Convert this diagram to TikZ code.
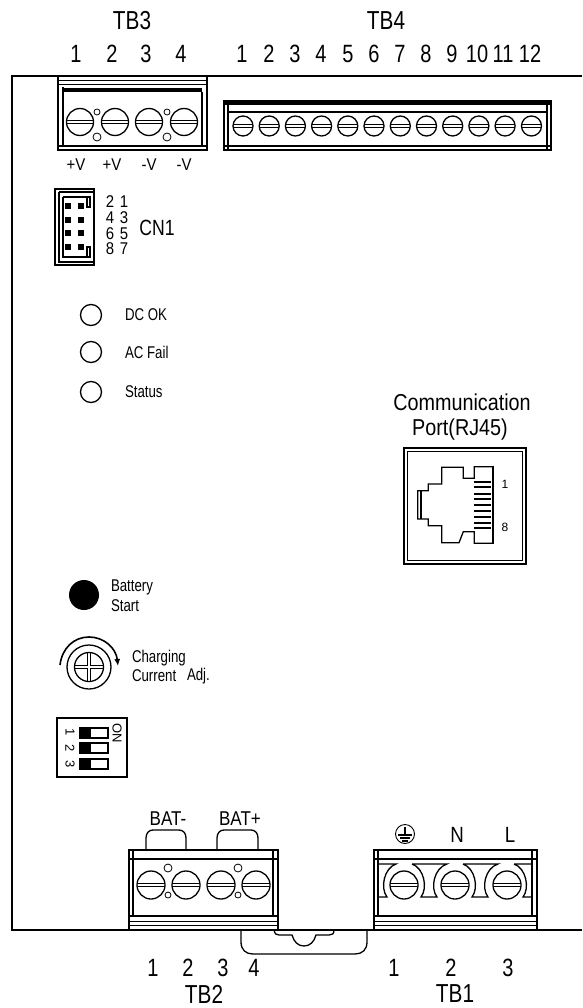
\documentclass[tikz,border=0pt]{standalone}
\usepackage{fontspec}
\setmainfont{Liberation Sans}
\usetikzlibrary{arrows.meta}

\begin{document}
\begin{tikzpicture}
[x=1pt,y=-1pt,line width=1.3pt,
 every node/.style={inner sep=0mm,outer sep=0mm,transform shape},
 title/.style={font=\fontsize{26}{26}\selectfont,xscale=.8},
 num/.style={font=\fontsize{25}{25}\selectfont,xscale=.8},
 mid/.style={font=\fontsize{22}{22}\selectfont,xscale=.8},
 tag/.style={font=\fontsize{20}{20}\selectfont,xscale=.85},
 lbl/.style={font=\fontsize{17}{17}\selectfont,xscale=.78,anchor=west},
 sig/.style={font=\fontsize{17}{17}\selectfont,xscale=.88},
 tiny/.style={font=\fontsize{12}{12}\selectfont},
 dip/.style={font=\fontsize{13}{13}\selectfont,rotate=-90},
 head/.style={font=\fontsize{23}{23}\selectfont,xscale=.86},
 body/.style={draw=black,fill=white},
 screw/.style={circle,draw=black,fill=white,inner sep=0mm,minimum size=#1,
   path picture={
     \draw[line width=1.1pt] ([yshift=1.7pt]path picture bounding box.west) -- ([yshift=1.7pt]path picture bounding box.east);
     \draw[line width=1.1pt] ([yshift=-1.7pt]path picture bounding box.west) -- ([yshift=-1.7pt]path picture bounding box.east);}},
 hole/.style={circle,draw=black,line width=.8pt,inner sep=0mm,minimum size=#1},
 led/.style={circle,draw=black,inner sep=0mm,minimum size=21pt},
 pin/.style={fill=black,draw=none,minimum size=6pt},
 slot/.style={rectangle,draw=black,fill=white,minimum width=28pt,minimum height=10pt,
   path picture={\fill[black] (path picture bounding box.north west) rectangle ([xshift=-17pt]path picture bounding box.south east);}}]
\useasboundingbox (0,0) rectangle (582,1008);

% panel outline
\draw (582,76) -- (12,76) -- (12,930) -- (582,930);

% TB3
\node[title] (tb3) at (132,21) {TB3};
\node[num] (tb3a) at (76,54) {1};
\node[num] (tb3b) at (112,54) {2};
\node[num] (tb3c) at (146,54) {3};
\node[num] (tb3d) at (181,54) {4};
\draw[body] (58,76) rectangle (207,150);
\draw[line width=.9pt] (58,80) -- (207,80);
\draw[line width=.9pt] (58,84) -- (207,84);
\draw (63,87) -- (63,146);
\draw (202,92) -- (202,146);
\draw (58,146) -- (207,146);
\fill (63,88) rectangle (202,92);
\node[screw=27pt] (s3a) at (80,122) {};
\node[screw=27pt] (s3b) at (115,122) {};
\node[screw=27pt] (s3c) at (149,122) {};
\node[screw=27pt] (s3d) at (184,122) {};
\node[hole=6pt] (h3a) at (97,112) {};
\node[hole=8pt] (h3b) at (97,137) {};
\node[hole=6pt] (h3c) at (167,112) {};
\node[hole=8pt] (h3d) at (167,137) {};
\node[sig] (va) at (76,165) {+V};
\node[sig] (vb) at (112,165) {+V};
\node[sig] (vc) at (149,165) {-V};
\node[sig] (vd) at (184,165) {-V};

% TB4
\node[title] (tb4) at (386,21) {TB4};
\node[num] (tb4a) at (242,54) {1};
\node[num] (tb4b) at (269,54) {2};
\node[num] (tb4c) at (295,54) {3};
\node[num] (tb4d) at (321,54) {4};
\node[num] (tb4e) at (348,54) {5};
\node[num] (tb4f) at (374,54) {6};
\node[num] (tb4g) at (400,54) {7};
\node[num] (tb4h) at (426,54) {8};
\node[num] (tb4i) at (452,54) {9};
\node[num] (tb4j) at (477,54) {10};
\node[num] (tb4k) at (503,54) {11};
\node[num] (tb4l) at (530,54) {12};
\draw[body] (224,101) rectangle (551,150);
\fill (224,101) rectangle (551,105.5);
\draw (228,101) -- (228,150);
\draw (547,101) -- (547,150);
\draw (228,112) -- (547,112);
\draw (224,146) -- (551,146);
\node[screw=20pt] (s4a) at (243,126) {};
\node[screw=20pt] (s4b) at (269.2,126) {};
\node[screw=20pt] (s4c) at (295.4,126) {};
\node[screw=20pt] (s4d) at (321.6,126) {};
\node[screw=20pt] (s4e) at (347.8,126) {};
\node[screw=20pt] (s4f) at (374,126) {};
\node[screw=20pt] (s4g) at (400.3,126) {};
\node[screw=20pt] (s4h) at (426.5,126) {};
\node[screw=20pt] (s4i) at (452.7,126) {};
\node[screw=20pt] (s4j) at (478.9,126) {};
\node[screw=20pt] (s4k) at (505.1,126) {};
\node[screw=20pt] (s4l) at (531.5,126) {};

% CN1
\draw (55,189) rectangle (94,265);
\draw (59,192) -- (59,262) -- (94,262);
\draw (59,192) -- (94,192);
\draw (63,197) -- (90,197) -- (90,207) -- (87,207) -- (87,197);
\draw (63,197) -- (63,257) -- (90,257) -- (90,247) -- (87,247) -- (87,257);
\node[pin] (p2) at (68,206) {};
\node[pin] (p1) at (81,206) {};
\node[pin] (p4) at (68,220) {};
\node[pin] (p3) at (81,220) {};
\node[pin] (p6) at (68,233) {};
\node[pin] (p5) at (81,233) {};
\node[pin] (p8) at (68,247) {};
\node[pin] (p7) at (81,247) {};
\node[sig] (n2) at (110,202) {2};
\node[sig] (n1) at (124,202) {1};
\node[sig] (n4) at (110,218) {4};
\node[sig] (n3) at (124,218) {3};
\node[sig] (n6) at (110,234) {6};
\node[sig] (n5) at (124,234) {5};
\node[sig] (n8) at (110,249) {8};
\node[sig] (n7) at (124,249) {7};
\node[mid] (cn1) at (157,228) {CN1};

% LEDs
\node[led] (dcok) at (91,315) {};
\node[led] (acfail) at (91,352) {};
\node[led] (status) at (91,392) {};
\node[lbl] (dcoktxt) at (125,315) {DC OK};
\node[lbl] (acfailtxt) at (125,352) {AC Fail};
\node[lbl] (statustxt) at (125,392) {Status};

% RJ45
\node[head] (comm) at (462,402) {Communication};
\node[head] (port) at (460,430) {Port(RJ45)};
\draw (404,448) rectangle (526,564);
\draw (407.5,451.5) rectangle (522.5,560.5);
\draw (493.3,466.7) -- (474.3,466.7) -- (474.3,478.3) -- (463.3,478.3) -- (463.3,467.3) -- (441.7,467.3) -- (441.7,484) -- (428.3,484) -- (428.3,490.7) -- (417.7,490.7) -- (417.7,519) -- (428.3,519) -- (428.3,525.7) -- (441.7,525.7) -- (441.7,542.7) -- (459,542.7) -- (463.3,531.7) -- (474.3,531.7) -- (474.3,543.3) -- (493.3,543.3) -- cycle;
\draw[line width=2pt] (492.5,466.7) -- (492.5,543.3);
\draw (421,490.7) -- (421,519);
\draw (474.3,482) -- (491,482);
\draw (474.3,487) -- (491,487);
\draw[line width=1.8pt] (474.3,494) -- (491,494);
\draw[line width=1.8pt] (474.3,499) -- (491,499);
\draw[line width=1.8pt] (474.3,505) -- (491,505);
\draw[line width=1.8pt] (474.3,511) -- (491,511);
\draw (474.3,517) -- (491,517);
\draw (474.3,523) -- (491,523);
\draw (474.3,528) -- (491,528);
\node[tiny] (rj1) at (505,484) {1};
\node[tiny] (rj8) at (505,527) {8};

% battery start
\node[circle,fill=black,minimum size=30pt] (batstart) at (84,595) {};
\node[lbl] (battxt) at (111,587) {Battery};
\node[lbl] (starttxt) at (111,606) {Start};

% charging adj
\node[circle,draw=black,minimum size=44pt] (knob) at (89,667) {};
\node[circle,draw=black,minimum size=29pt] (knobin) at (89,667) {};
\draw (75,665.5) -- (87.5,665.5) -- (87.5,653);
\draw (90.5,653) -- (90.5,665.5) -- (103,665.5);
\draw (103,668.5) -- (90.5,668.5) -- (90.5,681);
\draw (87.5,681) -- (87.5,668.5) -- (75,668.5);
\draw[line width=1.6pt,-{Latex[length=7pt,width=6pt]}] (60,665) .. controls (62,648) and (74,637) .. (89,637) .. controls (104,637) and (116,648) .. (118,666);
\node[lbl] (chgtxt) at (132,658) {Charging};
\node[lbl] (curtxt) at (132,676) {Current};
\node[lbl] (adjtxt) at (187,676) {Adj.};

% DIP switch
\draw (57,718) rectangle (127,777);
\node[slot] (sw1) at (94,733) {};
\node[slot] (sw2) at (94,748) {};
\node[slot] (sw3) at (94,764) {};
\node[dip] (d1) at (70,732) {1};
\node[dip] (d2) at (70,748) {2};
\node[dip] (d3) at (70,764) {3};
\node[dip] (on) at (117,733) {ON};

% din clip
\draw (241,930) -- (241,942) .. controls (241,950) and (246,954) .. (253,954) -- (355,954) .. controls (362,954) and (367,950) .. (367,942) -- (367,930);
\draw (274,930) .. controls (275,934) and (276,935) .. (279,935) -- (292,935) .. controls (294,942) and (298,946) .. (304,946) .. controls (310,946) and (314,942) .. (316,935) -- (329,935) .. controls (332,935) and (334,934) .. (334,930);

% TB2
\draw[body] (146,850) -- (146,838) .. controls (146,833) and (149,830) .. (153,830) -- (179,830) .. controls (183,830) and (186,833) .. (186,838) -- (186,850);
\draw[body] (217,850) -- (217,838) .. controls (217,833) and (220,830) .. (224,830) -- (251,830) .. controls (255,830) and (258,833) .. (258,838) -- (258,850);
\draw[body] (129,850) rectangle (278,930);
\draw (129,859) -- (278,859);
\draw (133,850) -- (133,916);
\draw (273,850) -- (273,916);
\fill (129,915) rectangle (278,917);
\draw[line width=.9pt] (129,921.7) -- (278,921.7);
\draw[line width=.9pt] (129,925.5) -- (278,925.5);
\node[screw=28pt] (s2a) at (151,885) {};
\node[screw=28pt] (s2b) at (186,885) {};
\node[screw=28pt] (s2c) at (221,885) {};
\node[screw=28pt] (s2d) at (256,885) {};
\node[hole=8pt] (h2a) at (168,868) {};
\node[hole=6pt] (h2b) at (168,895) {};
\node[hole=8pt] (h2c) at (238,868) {};
\node[hole=6pt] (h2d) at (238,895) {};
\node[tag] (batm) at (168,819) {BAT-};
\node[tag] (batp) at (240,819) {BAT+};
\node[num] (tb2a) at (153,968) {1};
\node[num] (tb2b) at (188,968) {2};
\node[num] (tb2c) at (223,968) {3};
\node[num] (tb2d) at (254,968) {4};
\node[title] (tb2) at (204,994) {TB2};

% TB1
\draw[body] (374,850) rectangle (537,930);
\draw (374,859) -- (537,859);
\draw (378,850) -- (378,916);
\draw (532,850) -- (532,916);
\fill (374,915) rectangle (537,917);
\draw[line width=.9pt] (374,921.7) -- (537,921.7);
\draw[line width=.9pt] (374,925.5) -- (537,925.5);
\draw (378,864) -- (396,864) .. controls (384,868) and (380,888) .. (387,897) -- (378,897);
\draw (412,864) .. controls (424,868) and (428,888) .. (421,897) -- (437,897) .. controls (430,888) and (434,868) .. (447,864) -- (412,864);
\draw (463,864) .. controls (475,868) and (479,888) .. (472,897) -- (488,897) .. controls (481,888) and (485,868) .. (498,864) -- (463,864);
\draw (514,864) -- (532,864) (532,897) -- (523,897) .. controls (530,888) and (526,868) .. (514,864);
\node[screw=28pt] (s1a) at (404,885) {};
\node[screw=28pt] (s1b) at (455,885) {};
\node[screw=28pt] (s1c) at (507,885) {};
\node[circle,draw=black,line width=.9pt,minimum size=19pt] (gnd) at (405,834) {};
\draw (405,827) -- (405,835);
\draw (398,835) -- (412,835);
\draw (400,838) -- (410,838);
\draw (402,841) -- (408,841);
\node[tag,font=\fontsize{22}{22}\selectfont] (ntxt) at (457,835) {N};
\node[tag,font=\fontsize{22}{22}\selectfont] (ltxt) at (510,835) {L};
\node[num] (tb1a) at (394,968) {1};
\node[num] (tb1b) at (451,968) {2};
\node[num] (tb1c) at (508,968) {3};
\node[title] (tb1) at (455,994) {TB1};
\end{tikzpicture}
\end{document}
